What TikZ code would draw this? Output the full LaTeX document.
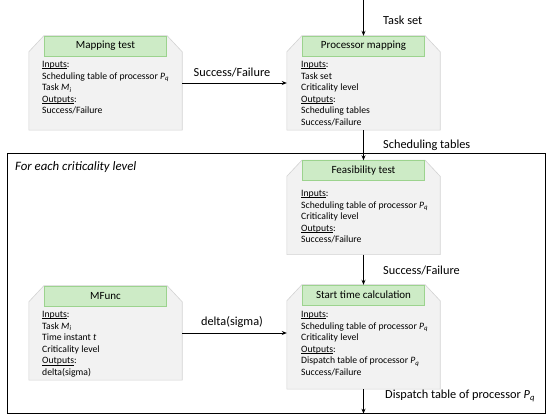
\documentclass[tikz,border=0pt]{standalone}
\usepackage{fontspec}
\setmainfont{Carlito}
\usetikzlibrary{arrows.meta,calc}
\definecolor{boxfill}{HTML}{F2F2F2}
\definecolor{boxline}{HTML}{D3D3D3}
\definecolor{hdrfill}{HTML}{CDEBC6}
\definecolor{hdrline}{HTML}{9CD38E}
\newcommand{\Pq}{\textit{P}\textsubscript{\textit{q}}}
\newcommand{\Mi}{\textit{M}\textsubscript{\textit{i}}}
\newcommand{\ulab}[1]{{\setbox0\hbox{#1}\rlap{\rule[-1.3pt]{\wd0}{0.45pt}}\box0}}
\newcommand{\chamf}[1]{%
  \draw[chamfline] (#1.south west) -- ($(#1.north west)+(0,16)$) -- ($(#1.north west)+(15,0)$)
    -- ($(#1.north east)+(-15,0)$) -- ($(#1.north east)+(0,16)$) -- (#1.south east) -- cycle;}
\tikzset{
  funcbox/.style={inner sep=0pt, minimum width=153pt, minimum height=94pt},
  chamfline/.style={fill=boxfill, draw=boxline, line width=0.6pt},
  header/.style={fill=hdrfill, draw=hdrline, line width=0.6pt, inner sep=0pt,
    minimum width=122pt, minimum height=20pt, anchor=north,
    font=\fontsize{11}{13}\selectfont},
  body/.style={anchor=north west, inner sep=0pt, align=left,
    font=\fontsize{9.7}{11.6}\selectfont},
  lbl/.style={inner sep=0pt, font=\fontsize{12.3}{14}\selectfont},
  arr/.style={draw=black, line width=0.8pt, -{Stealth[length=5pt,width=4pt]}}
}
\begin{document}
\begin{tikzpicture}[x=1pt,y=-1pt]
\useasboundingbox (0,0) rectangle (550,419);
% frame
\node[draw=black, line width=0.7pt, inner sep=0pt, minimum width=538pt, minimum height=260pt, anchor=north west] (frame) at (7,153) {};
\node[lbl, anchor=west, font=\fontsize{12.8}{14}\selectfont\itshape] (fecl) at (15,167) {For each criticality level};

% boxes
\node[funcbox] (mt) at (105.5,83) {};
\chamf{mt}
\node[header] (mth) at (mt.north) {Mapping test};
\node[body] (mtb) at (42,61) {\ulab{Inputs}:\\Scheduling table of processor \Pq\\Task \Mi\\\ulab{Outputs}:\\Success/Failure};

\node[funcbox] (pm) at (363.5,83) {};
\chamf{pm}
\node[header] (pmh) at (pm.north) {Processor mapping};
\node[body] (pmb) at (301,61) {\ulab{Inputs}:\\Task set\\Criticality level\\\ulab{Outputs}:\\Scheduling tables\\Success/Failure};

\node[funcbox] (ft) at (363.5,207.5) {};
\chamf{ft}
\node[header] (fth) at (ft.north) {Feasibility test};
\node[body] (ftb) at (301,190) {\ulab{Inputs}:\\Scheduling table of processor \Pq\\Criticality level\\\ulab{Outputs}:\\Success/Failure};

\node[funcbox, minimum height=104pt] (st) at (363.5,337) {};
\chamf{st}
\node[header] (sth) at (st.north) {Start time calculation};
\node[body] (stb) at (301,311) {\ulab{Inputs}:\\Scheduling table of processor \Pq\\Criticality level\\\ulab{Outputs}:\\Dispatch table of processor \Pq\\Success/Failure};

\node[funcbox] (mf) at (105.5,333) {};
\chamf{mf}
\node[header] (mfh) at (mf.north) {MFunc};
\node[body] (mfb) at (42,311) {\ulab{Inputs}:\\Task \Mi\\Time instant \textit{t}\\Criticality level\\\ulab{Outputs}:\\delta(sigma)};

% connectors
\coordinate (tsin) at (363.5,0);
\draw[arr] (tsin) -- (pm.north);
\node[lbl, anchor=west] (tsl) at (383,20) {Task set};
\draw[arr] (mt.east) -- (pm.west);
\node[lbl] (sfl1) at (232,72) {Success/Failure};
\draw[arr] (pm.south) -- (ft.north);
\node[lbl, anchor=west] (stl) at (383,145) {Scheduling tables};
\draw[arr] (ft.south) -- (st.north);
\node[lbl, anchor=west] (sfl2) at (383,270) {Success/Failure};
\draw[arr] (mf.east) -- (mf.east -| st.west);
\node[lbl] (dsl) at (232,322) {delta(sigma)};
\draw[arr] (st.south) -- (st.south |- frame.south);
\node[lbl, anchor=west] (dtl) at (385,396) {Dispatch table of processor \Pq};
\end{tikzpicture}
\end{document}
